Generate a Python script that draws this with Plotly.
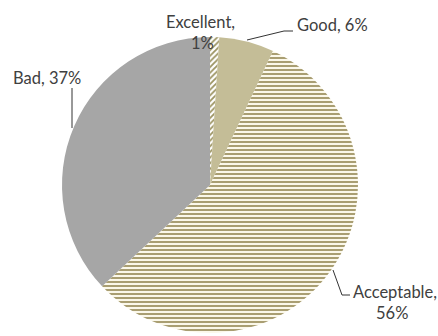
import plotly.graph_objects as go

# Ratings breakdown
categories = ["Excellent", "Good", "Acceptable", "Bad"]
shares = [1, 6, 56, 37]

fill_colors = ["#ffffff", "#c4bd97", "#fbf8ea", "#a6a6a6"]
pattern_shapes = ["/", "", "-", ""]
pattern_fg = ["#9c9462", "#c4bd97", "#a09464", "#a6a6a6"]

fig = go.Figure(
    go.Pie(
        labels=categories,
        values=shares,
        sort=False,
        direction="clockwise",
        rotation=0,
        textinfo="none",
        hoverinfo="label+percent",
        marker=dict(
            colors=fill_colors,
            line=dict(width=0),
            pattern=dict(
                shape=pattern_shapes,
                fgcolor=pattern_fg,
                bgcolor=fill_colors,
                size=4,
                solidity=0.45,
                fillmode="replace",
            ),
        ),
        domain=dict(x=[62 / 438, 358 / 438], y=[3 / 336, 299 / 336]),
        showlegend=False,
    )
)

label_font = dict(family="Lato, Open Sans, sans-serif", size=16.5, color="#404040")

def lbl(text, x, y, xanchor="center"):
    fig.add_annotation(
        text=text, x=x / 438, y=1 - y / 336, xref="paper", yref="paper",
        showarrow=False, font=label_font, xanchor=xanchor, yanchor="middle",
    )

lbl(f"{categories[0]},", 200, 22)
lbl(f"{shares[0]}%", 202, 43)
lbl(f"{categories[1]}, {shares[1]}%", 295, 25, "left")
lbl(f"{categories[3]}, {shares[3]}%", 47, 78)
lbl(f"{categories[2]},", 395, 292)
lbl(f"{shares[2]}%", 392, 313)

# Leader lines from labels to slices
def leader(points):
    path = "M " + " L ".join(f"{x / 438},{1 - y / 336}" for x, y in points)
    fig.add_shape(type="path", path=path, xref="paper", yref="paper",
                  line=dict(color="#333333", width=1))

leader([(247, 40), (284, 31), (293, 31)])
leader([(72, 88), (72, 128)])
leader([(333, 270), (342, 295), (350, 295)])

fig.update_layout(
    width=438,
    height=336,
    margin=dict(l=0, r=0, t=0, b=0),
    paper_bgcolor="white",
    plot_bgcolor="white",
)

fig.write_html("out.html")
